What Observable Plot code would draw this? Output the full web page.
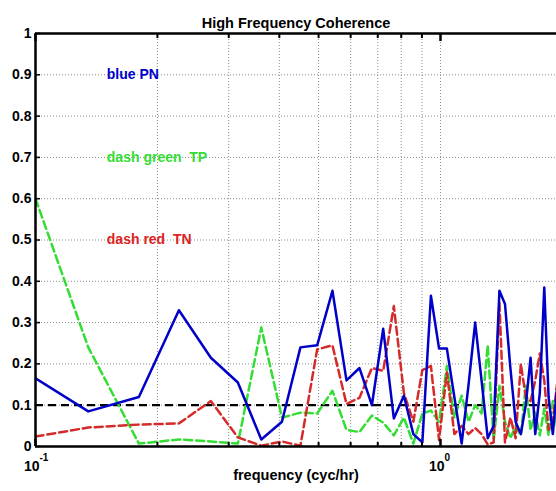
<!DOCTYPE html>
<html><head><meta charset="utf-8">
<script src="https://cdn.jsdelivr.net/npm/d3@7"></script>
<script src="https://cdn.jsdelivr.net/npm/@observablehq/plot@0.6"></script>
<style>
body{margin:0;background:#fff;}
svg{font-family:Arial,"Liberation Sans",Helvetica,sans-serif;}
</style>
</head><body><div id="chart"></div>
<script>
const freq = [0.1, 0.135, 0.180, 0.226, 0.271, 0.316, 0.361, 0.406, 0.451, 0.496, 0.541, 0.586, 0.631, 0.677, 0.722, 0.767, 0.812, 0.857, 0.902, 0.947, 0.992, 1.037, 1.082, 1.128, 1.173, 1.218, 1.263, 1.308, 1.353, 1.398, 1.443, 1.488, 1.533, 1.579, 1.624, 1.669, 1.714, 1.759, 1.804, 1.849, 1.894, 1.939];
const pn = [0.165, 0.085, 0.12, 0.33, 0.215, 0.155, 0.017, 0.06, 0.24, 0.245, 0.377, 0.16, 0.19, 0.10, 0.285, 0.068, 0.123, 0.03, 0.01, 0.365, 0.237, 0.237, 0.12, 0.007, 0.15, 0.30, 0.16, 0.02, 0.05, 0.377, 0.345, 0.19, 0.06, 0.03, 0.10, 0.215, 0.03, 0.13, 0.385, 0.12, 0.03, 0.14];
const tp = [0.6, 0.24, 0.007, 0.017, 0.012, 0.007, 0.288, 0.07, 0.082, 0.08, 0.135, 0.04, 0.035, 0.075, 0.058, 0.027, 0.07, 0.007, 0.08, 0.087, 0.06, 0.195, 0.07, 0.123, 0.06, 0.1, 0.08, 0.245, 0.015, 0.147, 0.06, 0.02, 0.05, 0.027, 0.147, 0.04, 0.082, 0.027, 0.092, 0.027, 0.11, 0.05];
const tn = [0.024, 0.046, 0.053, 0.056, 0.11, 0.022, 0.002, 0.012, 0.002, 0.235, 0.245, 0.103, 0.118, 0.19, 0.183, 0.34, 0.13, 0.06, 0.185, 0.195, 0.015, 0.18, 0.03, 0.05, 0.03, 0.045, 0.03, 0.005, 0.01, 0.35, 0.01, 0.07, 0.02, 0.2, 0.12, 0.11, 0.16, 0.225, 0.16, 0.04, 0.06, 0.15];

const yTicks = [0, 0.1, 0.2, 0.3, 0.4, 0.5, 0.6, 0.7, 0.8, 0.9, 1];
const yTickLabels = ["0", "0.1", "0.2", "0.3", "0.4", "0.5", "0.6", "0.7", "0.8", "0.9", "1"];
const xMinorTicks = [0.2, 0.3, 0.4, 0.5, 0.6, 0.7, 0.8, 0.9];
const xMajorTicks = [0.1, 1];
const xMajorExp = ["-1", "0"];
const threshold = [0.1];
const xDomain = [0.1, 1.934];

const legendLabels = ["blue PN", "dash green\u00a0 TP", "dash red\u00a0 TN"];
const legendY = [0.9, 0.7, 0.5];
const legendX = 0.15;
const legendColors = ["#0000cc", "#33dd33", "#dd2222"];

const title = "High Frequency Coherence";
const xLabel = "frequency (cyc/hr)";

const rows = ys => freq.map((f, i) => ({f, v: ys[i]}));
const font = {fontSize: 14, fontWeight: "bold", fill: "#000"};

const chart = Plot.plot({
  width: 556, height: 491,
  marginLeft: 35, marginRight: 0, marginTop: 33, marginBottom: 45,
  style: {background: "#fff", fontFamily: "Arial, 'Liberation Sans', Helvetica, sans-serif", overflow: "visible"},
  x: {type: "log", domain: xDomain},
  y: {domain: [0, 1]},
  marks: [
    Plot.ruleY(yTicks.slice(1, -1), {stroke: "#8c8c8c", strokeWidth: 1, strokeDasharray: "1,2"}),
    Plot.ruleX(xMinorTicks.concat([1]), {stroke: "#8c8c8c", strokeWidth: 1, strokeDasharray: "1,2"}),
    Plot.ruleY(threshold, {stroke: "#000", strokeWidth: 2.2, strokeDasharray: "8,5"}),
    Plot.line(rows(tp), {x: "f", y: "v", stroke: "#33dd33", strokeWidth: 2.5, strokeDasharray: "8,4", clip: true}),
    Plot.line(rows(tn), {x: "f", y: "v", stroke: "#d42a2a", strokeWidth: 2.5, strokeDasharray: "8,4", clip: true}),
    Plot.line(rows(pn), {x: "f", y: "v", stroke: "#0000c8", strokeWidth: 2.5, clip: true}),
    Plot.ruleY([0, 1], {stroke: "#000", strokeWidth: 2.5}),
    Plot.ruleX([0.1], {stroke: "#000", strokeWidth: 2.5}),
    Plot.axisY(yTicks, {tickSize: -5, tickPadding: 9, strokeWidth: 1.5, tickFormat: d => yTickLabels[yTicks.indexOf(d)], label: null, ...font}),
    Plot.axisX(xMinorTicks, {anchor: "bottom", tickSize: -4, strokeWidth: 2, tickFormat: () => "", label: null}),
    Plot.axisX(xMinorTicks, {anchor: "top", tickSize: -4, strokeWidth: 2, tickFormat: () => "", label: null}),
    Plot.axisX(xMajorTicks, {anchor: "bottom", tickSize: -7, strokeWidth: 2.5, tickFormat: () => "", label: null}),
    Plot.axisX(xMajorTicks, {anchor: "top", tickSize: -7, strokeWidth: 2.5, tickFormat: () => "", label: null}),
    Plot.text(xMajorTicks, {x: d => d, y: () => 0, text: () => "10", textAnchor: "end", dx: 4, dy: 20, ...font}),
    Plot.text(xMajorTicks, {x: d => d, y: () => 0, text: (d, i) => xMajorExp[i], textAnchor: "start", dx: 4, dy: 11, fontSize: 10, fontWeight: "bold", fill: "#000"}),
    Plot.text([title], {frameAnchor: "top", dy: -16, text: d => d, fontSize: 14.5, fontWeight: "bold", fill: "#000"}),
    Plot.text([xLabel], {frameAnchor: "bottom", dy: 33, text: d => d, fontSize: 14.5, fontWeight: "bold", fill: "#000"}),
    ...legendLabels.map((lab, i) => Plot.text([lab], {x: () => legendX, y: () => legendY[i], text: d => d, textAnchor: "start", fontSize: 14, fontWeight: "bold", fill: legendColors[i]}))
  ]
});
document.getElementById("chart").appendChild(chart);
</script>
</body></html>
